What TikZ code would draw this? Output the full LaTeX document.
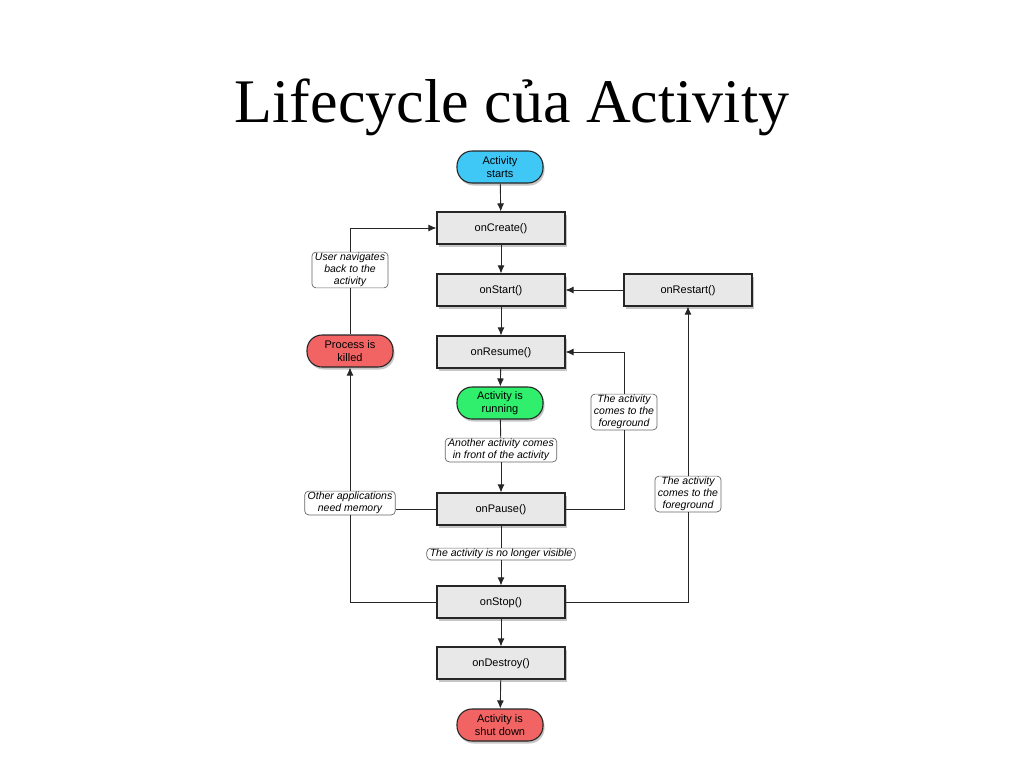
\documentclass[tikz,border=0pt]{standalone}
\usepackage{fontspec}
\setmainfont{Liberation Serif}
\setsansfont{Liberation Sans}
\usetikzlibrary{arrows.meta,shadows}
\definecolor{startblue}{HTML}{3FC8F6}
\definecolor{rungreen}{HTML}{30EF6C}
\definecolor{killred}{HTML}{F26464}
\begin{document}
\begin{tikzpicture}[x=1pt,y=-1pt,
		>={Latex[length=8pt,width=7pt]},
		line/.style={draw=black!85,line width=.9pt},
		every edge/.style={line},
		call/.style={draw=black!85,line width=1.1pt,fill=black!9,minimum width=128pt,minimum height=32pt,
			font=\sffamily\fontsize{11}{13}\selectfont,text depth=1pt,
			drop shadow={shadow xshift=1.5pt,shadow yshift=-2.5pt,opacity=.45}},
		state/.style={draw=black!85,line width=1.1pt,rounded corners=15pt,minimum width=86pt,minimum height=32pt,
			inner sep=0pt,align=center,font=\sffamily\fontsize{11}{13}\selectfont,
			drop shadow={shadow xshift=1.5pt,shadow yshift=-2.5pt,opacity=.45}},
		note/.style={draw=black!60,line width=.7pt,fill=white,rounded corners=4pt,align=center,
			inner xsep=3pt,inner ysep=1pt,font=\sffamily\itshape\fontsize{10.5}{12}\selectfont}]
	\useasboundingbox (0,0) rectangle (1024,768);
	\node (title) at (512,122) [anchor=base,font=\fontsize{62}{70}\selectfont] {Lifecycle của Activity};
	% main column
	\node (starts) at (500,167) [state,fill=startblue] {Activity\\starts};
	\node (create) at (501,228) [call] {onCreate()} edge [<-] (starts);
	\node (start) at (501,290) [call] {onStart()} edge [<-] (create);
	\node (resume) at (501,352) [call] {onResume()} edge [<-] (start);
	\node (running) at (500,403) [state,fill=rungreen] {Activity is\\running} edge [<-] (resume);
	\node (another) at (501,450) [note] {Another activity comes\\in front of the activity} edge (running);
	\node (pause) at (501,509) [call] {onPause()} edge [<-] (another);
	\node (novisible) at (501,554) [note] {The activity is no longer visible} edge (pause);
	\node (stop) at (501,602) [call] {onStop()} edge [<-] (novisible);
	\node (destroy) at (501,663) [call] {onDestroy()} edge [<-] (stop);
	\node (down) at (500,725) [state,fill=killred] {Activity is\\shut down} edge [<-] (destroy);
	% side nodes
	\node (restart) at (688,290) [call] {onRestart()};
	\node (killed) at (350,351) [state,fill=killred] {Process is\\killed};
	\node (user) at (350,270) [note] {User navigates\\back to the\\activity};
	\node (memory) at (350,503) [note] {Other applications\\need memory};
	\node (fgone) at (624,412) [note] {The activity\\comes to the\\foreground};
	\node (fgtwo) at (688,494) [note] {The activity\\comes to the\\foreground};
	% loops
	\draw[line,->] (restart) -- (start);
	\draw[line] (pause.east) -| (fgone);
	\draw[line,->] (fgone) |- (resume.east);
	\draw[line] (stop.east) -| (fgtwo);
	\draw[line,->] (fgtwo) -- (restart);
	\draw[line] (stop.west) -| (memory);
	\draw[line] (pause.west) -- (memory.east |- pause.west);
	\draw[line,->] (memory) -- (killed);
	\draw[line] (killed) -- (user);
	\draw[line,->] (user) |- (create.west);
\end{tikzpicture}
\end{document}
